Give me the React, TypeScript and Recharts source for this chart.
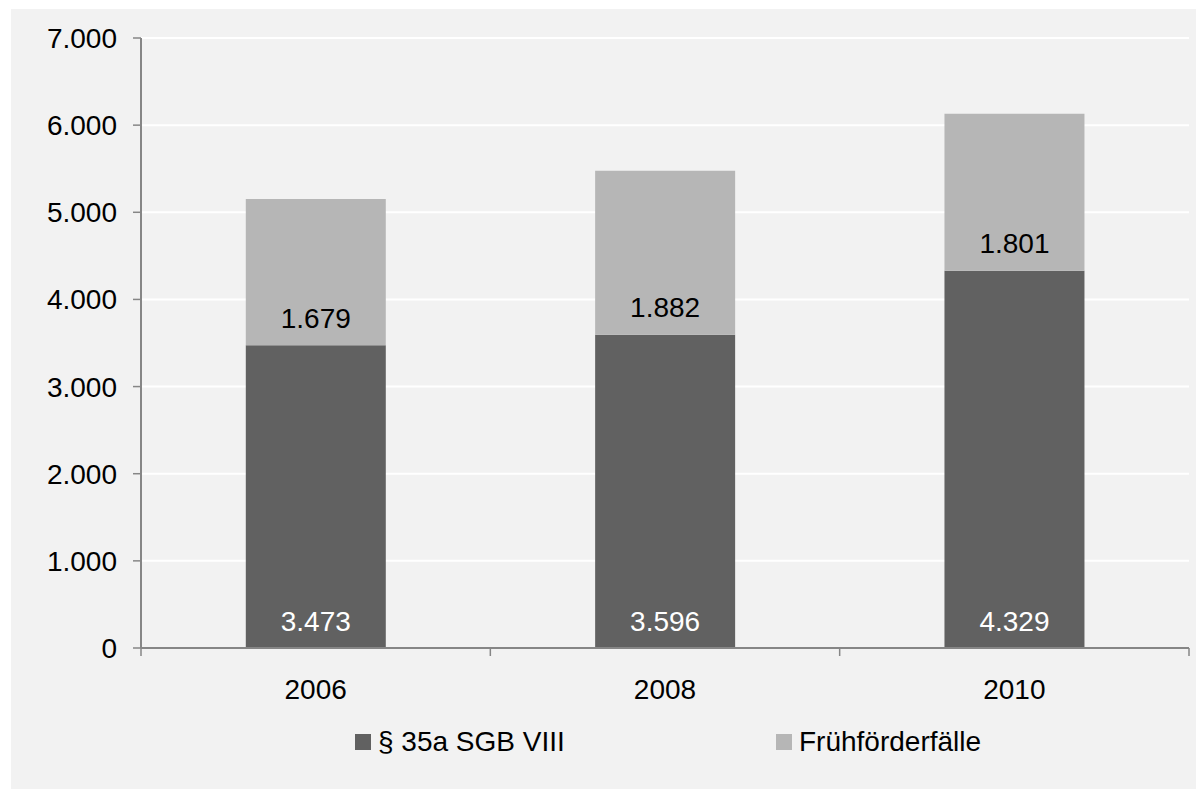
import React from "react";
import { BarChart, Bar, XAxis, YAxis, CartesianGrid, Legend, LabelList } from "recharts";

const years = ["2006", "2008", "2010"];
const sgbValues = [3473, 3596, 4329];
const fruehValues = [1679, 1882, 1801];
const yTicks = [0, 1000, 2000, 3000, 4000, 5000, 6000, 7000];
const seriesNames = ["§ 35a SGB VIII", "Frühförderfälle"];

const chartData = years.map((year, i) => ({ year, sgb: sgbValues[i], frueh: fruehValues[i] }));

const DARK = "#616161";
const LIGHT = "#b6b6b6";
const AXIS = "#868686";
const FONT = 28;

const W = 1193;
const H = 780;
const MARGIN = { top: 29, right: 15, left: 0, bottom: 22 };
const Y_AXIS_W = 130;
const X_TICK_SIZE = 6;
const X_TICK_MARGIN = 25;
const BAND = (W - MARGIN.left - MARGIN.right - Y_AXIS_W) / years.length;

// German thousands separator
const fmt = (v: number) => String(v).replace(/\B(?=(\d{3})+(?!\d))/g, ".");

// label sits near the base of each segment, like Excel "inside base"
const baseLabel = (color: string) => (props: any) => {
  const { x, y, width, height, value } = props;
  return (
    <text x={x + width / 2} y={y + height - 17.5} textAnchor="middle" fill={color} fontSize={FONT}>
      {fmt(value)}
    </text>
  );
};

// year label plus Excel-style tick marks between categories
const CategoryTick = (props: any) => {
  const { x, y, payload, index } = props;
  const axisY = y - X_TICK_SIZE - X_TICK_MARGIN;
  const left = x - BAND / 2;
  const right = x + BAND / 2;
  return (
    <g>
      <line x1={left} x2={left} y1={axisY} y2={axisY + 8} stroke={AXIS} strokeWidth={1.5} />
      {index === years.length - 1 && (
        <line x1={right} x2={right} y1={axisY} y2={axisY + 8} stroke={AXIS} strokeWidth={1.5} />
      )}
      <text x={x} y={y} dy="0.71em" textAnchor="middle" fill="#000" fontSize={FONT}>
        {payload.value}
      </text>
    </g>
  );
};

const renderLegend = () => (
  <div style={{ position: "relative", width: W, height: 50, fontSize: FONT, color: "#000" }}>
    {[DARK, LIGHT].map((c, i) => (
      <div
        key={i}
        style={{ position: "absolute", left: i === 0 ? 344 : 765, top: 0, height: 50, display: "flex", alignItems: "center" }}
      >
        <span style={{ width: 16, height: 16, background: c, display: "inline-block", marginRight: 7 }} />
        <span style={{ whiteSpace: "nowrap" }}>{seriesNames[i]}</span>
      </div>
    ))}
  </div>
);

export default function App() {
  return (
    <div
      style={{
        position: "relative",
        top: 1,
        marginLeft: 3,
        width: W,
        height: 781,
        background: "#f2f2f2",
        fontFamily: "'Liberation Sans', Arial, sans-serif",
      }}
    >
      <BarChart width={W} height={H} data={chartData} margin={MARGIN} barCategoryGap="30%">
        <CartesianGrid stroke="#ffffff" strokeWidth={2} vertical={false} />
        <XAxis
          dataKey="year"
          height={69}
          axisLine={{ stroke: AXIS, strokeWidth: 2 }}
          tickLine={false}
          tickSize={X_TICK_SIZE}
          tickMargin={X_TICK_MARGIN}
          tick={<CategoryTick />}
        />
        <YAxis
          width={Y_AXIS_W}
          domain={[0, 7000]}
          ticks={yTicks}
          interval={0}
          tickFormatter={fmt}
          axisLine={{ stroke: AXIS, strokeWidth: 2 }}
          tickLine={{ stroke: AXIS, strokeWidth: 1.5 }}
          tickSize={8}
          tickMargin={16}
          tick={{ fontSize: FONT, fill: "#000" }}
        />
        <Legend verticalAlign="bottom" height={50} width={W} wrapperStyle={{ left: 0 }} content={renderLegend} />
        <Bar dataKey="sgb" name={seriesNames[0]} stackId="a" fill={DARK} isAnimationActive={false}>
          <LabelList dataKey="sgb" content={baseLabel("#ffffff")} />
        </Bar>
        <Bar dataKey="frueh" name={seriesNames[1]} stackId="a" fill={LIGHT} isAnimationActive={false}>
          <LabelList dataKey="frueh" content={baseLabel("#000000")} />
        </Bar>
      </BarChart>
    </div>
  );
}
